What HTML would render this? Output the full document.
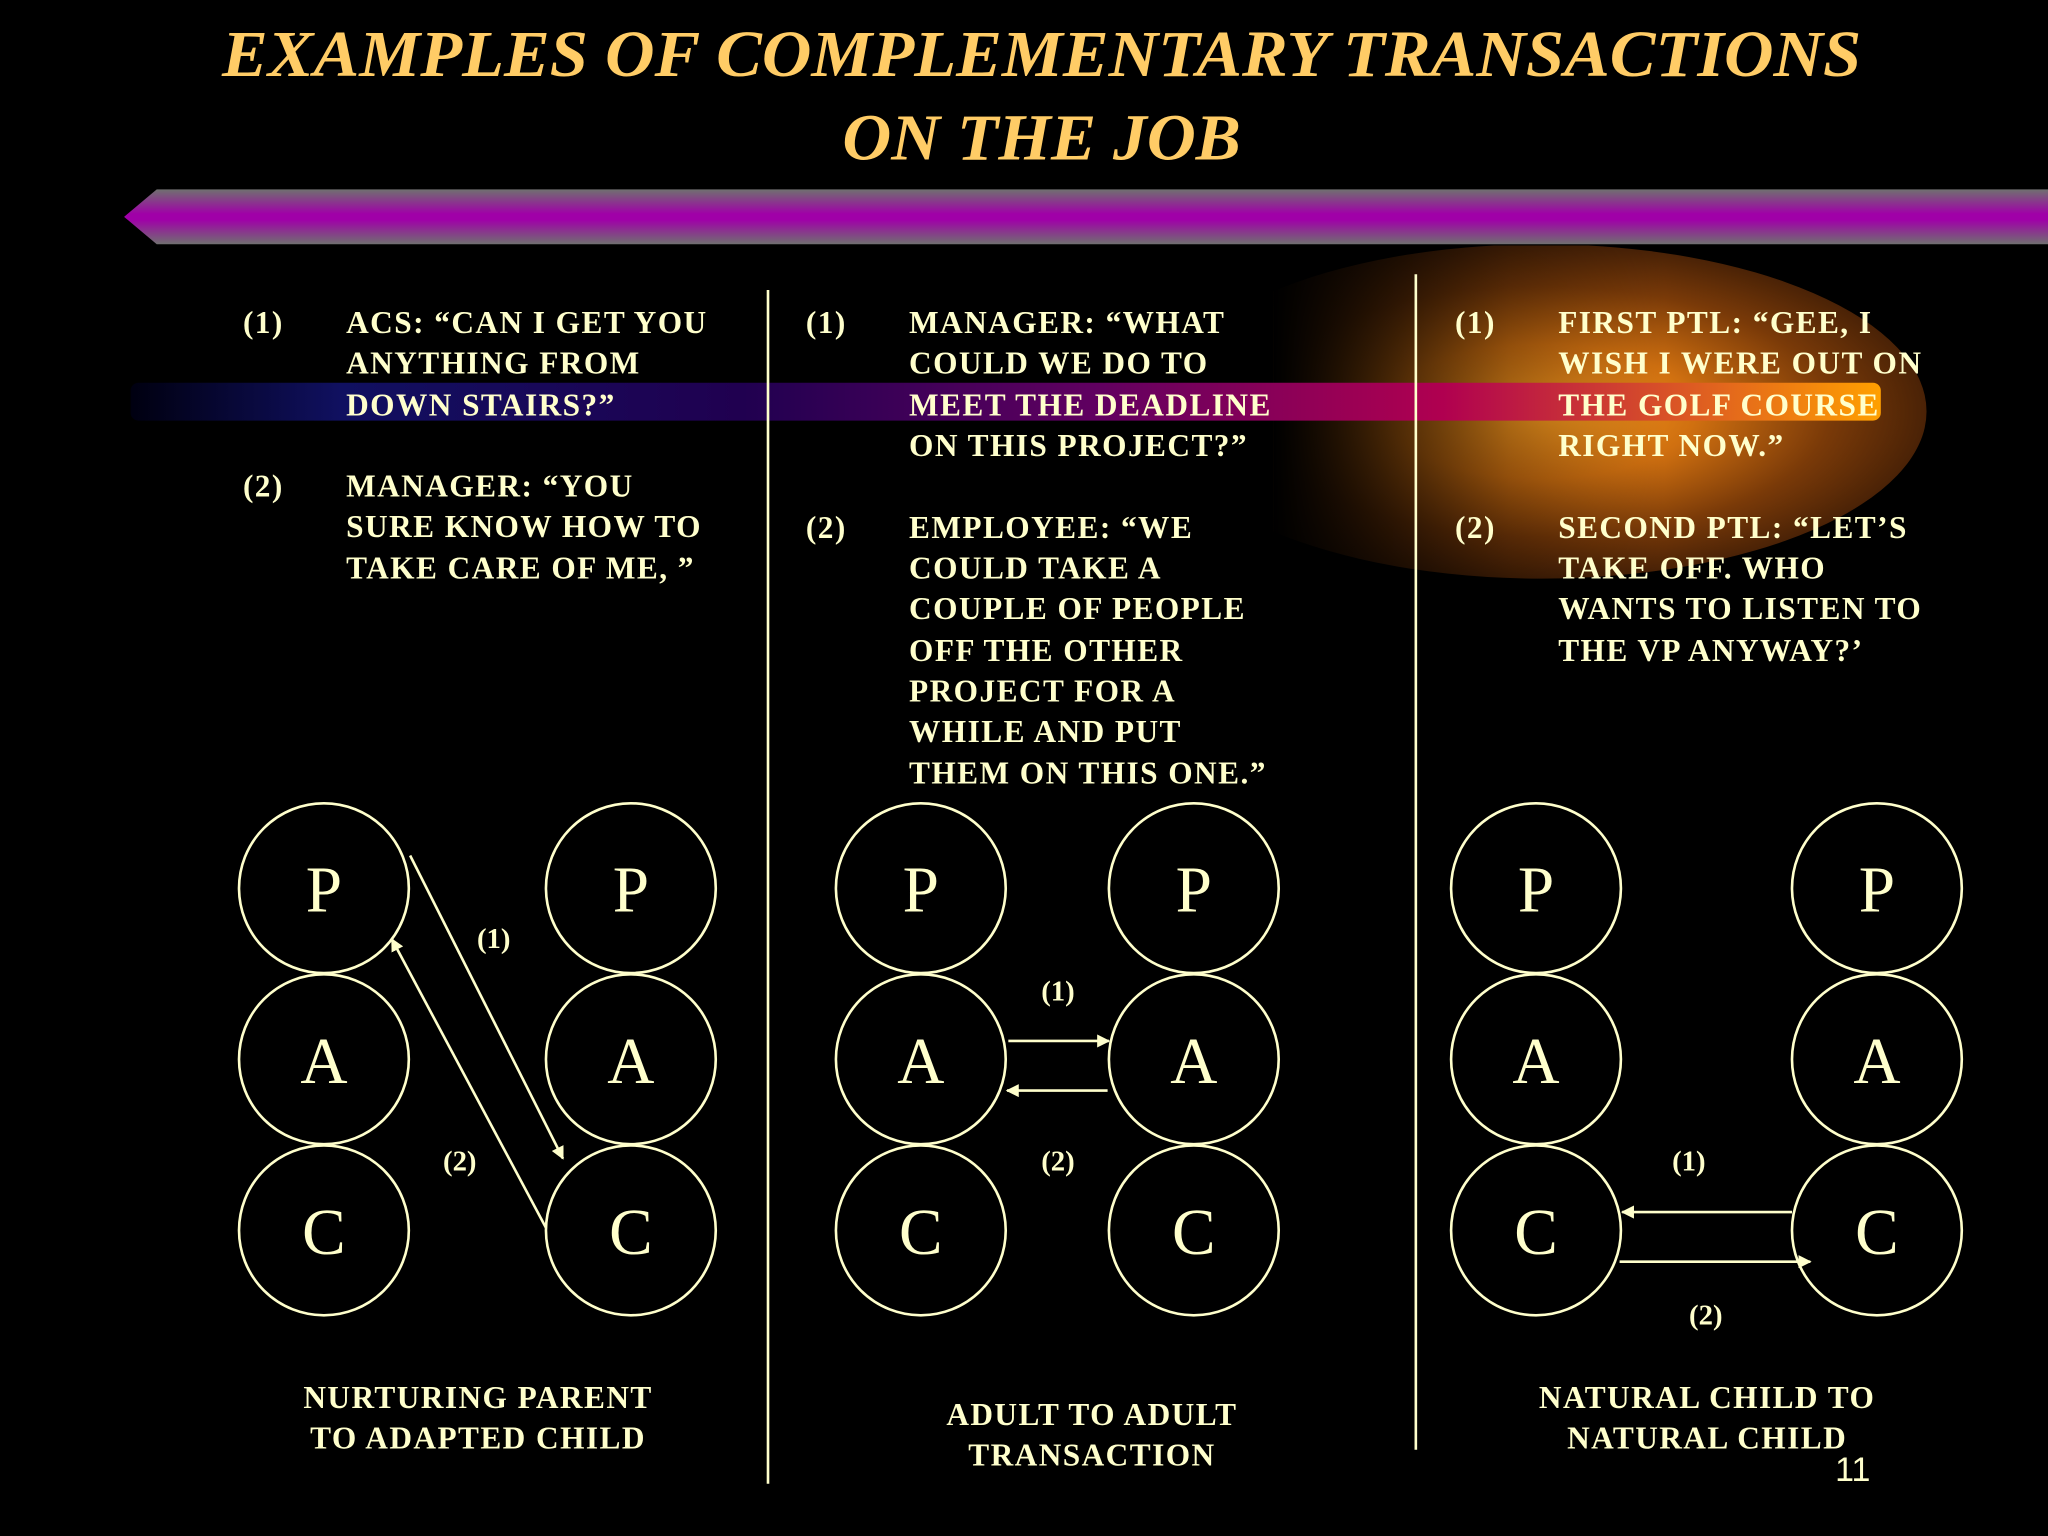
<!DOCTYPE html>
<html><head><meta charset="utf-8"><style>
html,body{margin:0;padding:0;background:#000;width:2048px;height:1536px;overflow:hidden}
svg{display:block}
.t{font-family:"Liberation Serif",serif;font-weight:bold;font-size:24px;fill:#ffffcc;letter-spacing:1.1px}
.L{font-family:"Liberation Serif",serif;font-size:50px;fill:#ffffcc;text-anchor:middle}
.lab{font-family:"Liberation Serif",serif;font-weight:bold;font-size:22px;fill:#ffffcc;text-anchor:middle}
</style></head><body>
<svg width="2048" height="1536" viewBox="0 0 1568 1176" xmlns="http://www.w3.org/2000/svg">
<defs>
<linearGradient id="ban" x1="0" y1="0" x2="0" y2="1">
<stop offset="0" stop-color="#707070"/><stop offset="0.45" stop-color="#a000a8"/><stop offset="0.55" stop-color="#a000a8"/><stop offset="1" stop-color="#707070"/>
</linearGradient>
<radialGradient id="glow" cx="0.5" cy="0.5" r="0.5">
<stop offset="0" stop-color="#ffa020"/><stop offset="0.4" stop-color="#d07010"/><stop offset="0.75" stop-color="#7a3a08"/><stop offset="1" stop-color="#4a2206"/>
</radialGradient>
<linearGradient id="fade" x1="0" y1="0" x2="1" y2="0">
<stop offset="0" stop-color="#000" stop-opacity="1"/><stop offset="0.3" stop-color="#000" stop-opacity="0.3"/><stop offset="0.5" stop-color="#000" stop-opacity="0"/>
</linearGradient>
<linearGradient id="band" x1="0" y1="0" x2="1" y2="0">
<stop offset="0" stop-color="#000010"/><stop offset="0.12" stop-color="#101060"/><stop offset="0.35" stop-color="#200050"/><stop offset="0.55" stop-color="#600060"/><stop offset="0.75" stop-color="#b00050"/><stop offset="1" stop-color="#ffa000"/>
</linearGradient>
<clipPath id="cg"><rect x="975" y="188" width="600" height="272"/></clipPath>
<marker id="ah" markerWidth="10" markerHeight="10" refX="9" refY="5" orient="auto" markerUnits="userSpaceOnUse"><path d="M0,0 L10,5 L0,10 Z" fill="#ffffcc"/></marker>
</defs>
<rect width="1568" height="1176" fill="#000"/>
<text x="170" y="58" textLength="1255" lengthAdjust="spacingAndGlyphs" font-family="Liberation Serif,serif" font-style="italic" font-weight="bold" font-size="50" fill="#ffcc66">EXAMPLES OF COMPLEMENTARY TRANSACTIONS</text>
<text x="645" y="122" textLength="305" lengthAdjust="spacingAndGlyphs" font-family="Liberation Serif,serif" font-style="italic" font-weight="bold" font-size="50" fill="#ffcc66">ON THE JOB</text>
<g clip-path="url(#cg)">
<ellipse cx="1180" cy="315" rx="295" ry="128" fill="url(#glow)"/>
<rect x="975" y="188" width="600" height="272" fill="url(#fade)"/>
</g>
<polygon points="95,166 120,145 1568,145 1568,187 120,187" fill="url(#ban)"/>
<rect x="100" y="293" width="1340" height="29" rx="6" fill="url(#band)"/>
<line x1="588" y1="222" x2="588" y2="1136" stroke="#ffffcc" stroke-width="2"/>
<line x1="1084" y1="210" x2="1084" y2="1110" stroke="#ffffcc" stroke-width="2"/>
<g class="t">
<text x="186" y="255">(1)</text><text x="265" y="255">ACS: “CAN I GET YOU</text><text x="265" y="286">ANYTHING FROM</text><text x="265" y="318">DOWN STAIRS?”</text>
<text x="186" y="380">(2)</text><text x="265" y="380">MANAGER: “YOU</text><text x="265" y="411">SURE KNOW HOW TO</text><text x="265" y="443">TAKE CARE OF ME, ”</text>
<text x="617" y="255">(1)</text><text x="696" y="255">MANAGER: “WHAT</text><text x="696" y="286">COULD WE DO TO</text><text x="696" y="318">MEET THE DEADLINE</text><text x="696" y="349">ON THIS PROJECT?”</text>
<text x="617" y="412">(2)</text><text x="696" y="412">EMPLOYEE: “WE</text><text x="696" y="443">COULD TAKE A</text><text x="696" y="474">COUPLE OF PEOPLE</text><text x="696" y="506">OFF THE OTHER</text><text x="696" y="537">PROJECT FOR A</text><text x="696" y="568">WHILE AND PUT</text><text x="696" y="600">THEM ON THIS ONE.”</text>
<text x="1114" y="255">(1)</text><text x="1193" y="255">FIRST PTL: “GEE, I</text><text x="1193" y="286">WISH I WERE OUT ON</text><text x="1193" y="318">THE GOLF COURSE</text><text x="1193" y="349">RIGHT NOW.”</text>
<text x="1114" y="412">(2)</text><text x="1193" y="412">SECOND PTL: “LET’S</text><text x="1193" y="443">TAKE OFF. WHO</text><text x="1193" y="474">WANTS TO LISTEN TO</text><text x="1193" y="506">THE VP ANYWAY?’</text>
</g>
<g fill="none" stroke="#ffffcc" stroke-width="2">
<circle cx="248" cy="680" r="65"/><circle cx="248" cy="811" r="65"/><circle cx="248" cy="942" r="65"/>
<circle cx="483" cy="680" r="65"/><circle cx="483" cy="811" r="65"/><circle cx="483" cy="942" r="65"/>
<circle cx="705" cy="680" r="65"/><circle cx="705" cy="811" r="65"/><circle cx="705" cy="942" r="65"/>
<circle cx="914" cy="680" r="65"/><circle cx="914" cy="811" r="65"/><circle cx="914" cy="942" r="65"/>
<circle cx="1176" cy="680" r="65"/><circle cx="1176" cy="811" r="65"/><circle cx="1176" cy="942" r="65"/>
<circle cx="1437" cy="680" r="65"/><circle cx="1437" cy="811" r="65"/><circle cx="1437" cy="942" r="65"/>
<line x1="314" y1="655" x2="431" y2="887" marker-end="url(#ah)"/>
<line x1="418" y1="940" x2="300" y2="719" marker-end="url(#ah)"/>
<line x1="772" y1="797" x2="849" y2="797" marker-end="url(#ah)"/>
<line x1="848" y1="835" x2="771" y2="835" marker-end="url(#ah)"/>
<line x1="1372" y1="928" x2="1242" y2="928" marker-end="url(#ah)"/>
<line x1="1240" y1="966" x2="1386" y2="966" marker-end="url(#ah)"/>
</g>
<g class="L">
<text x="248" y="698">P</text><text x="248" y="829">A</text><text x="248" y="960">C</text>
<text x="483" y="698">P</text><text x="483" y="829">A</text><text x="483" y="960">C</text>
<text x="705" y="698">P</text><text x="705" y="829">A</text><text x="705" y="960">C</text>
<text x="914" y="698">P</text><text x="914" y="829">A</text><text x="914" y="960">C</text>
<text x="1176" y="698">P</text><text x="1176" y="829">A</text><text x="1176" y="960">C</text>
<text x="1437" y="698">P</text><text x="1437" y="829">A</text><text x="1437" y="960">C</text>
</g>
<g class="lab">
<text x="378" y="726">(1)</text><text x="352" y="896">(2)</text>
<text x="810" y="766">(1)</text><text x="810" y="896">(2)</text>
<text x="1293" y="896">(1)</text><text x="1306" y="1014">(2)</text>
</g>
<g class="t" text-anchor="middle">
<text x="366" y="1078">NURTURING PARENT</text><text x="366" y="1109">TO ADAPTED CHILD</text>
<text x="836" y="1091">ADULT TO ADULT</text><text x="836" y="1122">TRANSACTION</text>
<text x="1307" y="1078">NATURAL CHILD TO</text><text x="1307" y="1109">NATURAL CHILD</text>
</g>
<text x="1432" y="1134" text-anchor="end" font-family="Liberation Sans,sans-serif" font-size="26" fill="#ffffcc">11</text>
</svg>
</body></html>
